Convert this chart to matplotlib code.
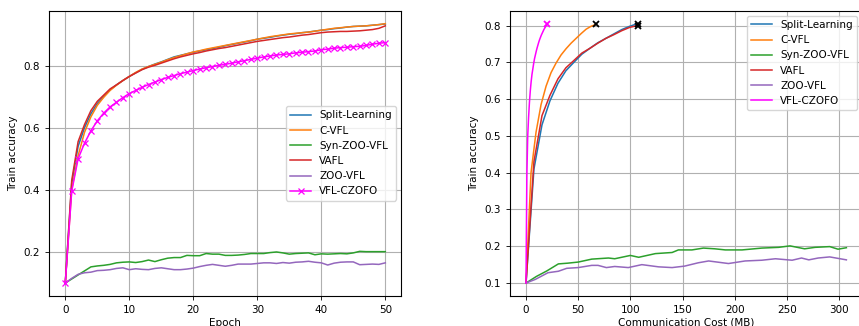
import matplotlib
matplotlib.use("Agg")
import matplotlib.pyplot as plt

FS = 7.5
plt.rcParams['font.family'] = ['DejaVu Sans']
plt.rcParams['font.size'] = FS

# ---------------- Left panel: accuracy vs epoch ----------------
epochs = list(range(51))

split_acc = [0.100, 0.420, 0.540, 0.600, 0.645, 0.678, 0.700, 0.722, 0.738, 0.752,
             0.765, 0.777, 0.788, 0.797, 0.805, 0.812, 0.820, 0.828, 0.833, 0.838,
             0.843, 0.847, 0.851, 0.855, 0.859, 0.864, 0.868, 0.872, 0.876, 0.880,
             0.885, 0.888, 0.891, 0.895, 0.898, 0.901, 0.903, 0.906, 0.908, 0.911,
             0.914, 0.916, 0.919, 0.921, 0.924, 0.926, 0.927, 0.928, 0.930, 0.932,
             0.934]
cvfl_acc = [0.100, 0.400, 0.510, 0.585, 0.635, 0.672, 0.698, 0.720, 0.737, 0.752,
            0.765, 0.778, 0.789, 0.797, 0.804, 0.811, 0.819, 0.826, 0.832, 0.838,
            0.844, 0.848, 0.853, 0.857, 0.861, 0.865, 0.869, 0.873, 0.877, 0.881,
            0.885, 0.889, 0.893, 0.896, 0.899, 0.902, 0.904, 0.906, 0.908, 0.911,
            0.914, 0.917, 0.920, 0.922, 0.924, 0.926, 0.927, 0.928, 0.930, 0.932,
            0.935]
vafl_acc = [0.100, 0.430, 0.555, 0.610, 0.655, 0.685, 0.705, 0.725, 0.738, 0.752,
            0.765, 0.776, 0.787, 0.795, 0.801, 0.808, 0.815, 0.822, 0.828, 0.833,
            0.838, 0.842, 0.847, 0.851, 0.855, 0.858, 0.862, 0.866, 0.870, 0.874,
            0.878, 0.881, 0.884, 0.887, 0.890, 0.892, 0.895, 0.898, 0.900, 0.903,
            0.906, 0.908, 0.909, 0.910, 0.910, 0.911, 0.912, 0.914, 0.916, 0.920,
            0.928]
synzoo_acc = [0.100, 0.113, 0.126, 0.139, 0.152, 0.155, 0.157, 0.160, 0.165, 0.167,
              0.168, 0.166, 0.169, 0.174, 0.169, 0.175, 0.180, 0.182, 0.182, 0.189,
              0.188, 0.188, 0.195, 0.193, 0.193, 0.189, 0.189, 0.190, 0.192, 0.195,
              0.195, 0.195, 0.198, 0.200, 0.197, 0.193, 0.195, 0.196, 0.197, 0.191,
              0.194, 0.193, 0.194, 0.195, 0.194, 0.197, 0.202, 0.201, 0.201, 0.201,
              0.201]
zoo_acc = [0.100, 0.115, 0.128, 0.133, 0.135, 0.140, 0.141, 0.143, 0.147, 0.149,
           0.143, 0.146, 0.144, 0.143, 0.147, 0.149, 0.146, 0.143, 0.143, 0.145,
           0.148, 0.153, 0.157, 0.160, 0.157, 0.154, 0.157, 0.161, 0.161, 0.161,
           0.163, 0.165, 0.165, 0.163, 0.166, 0.164, 0.167, 0.168, 0.170, 0.167,
           0.165, 0.158, 0.164, 0.167, 0.168, 0.168, 0.159, 0.160, 0.161, 0.160,
           0.165]
czofo_acc = [0.100, 0.395, 0.500, 0.550, 0.590, 0.622, 0.647, 0.667, 0.682, 0.697,
             0.710, 0.720, 0.730, 0.739, 0.747, 0.755, 0.762, 0.768, 0.774, 0.779,
             0.784, 0.789, 0.793, 0.797, 0.801, 0.804, 0.808, 0.812, 0.816, 0.820,
             0.824, 0.828, 0.831, 0.834, 0.836, 0.838, 0.841, 0.843, 0.845, 0.847,
             0.851, 0.853, 0.856, 0.858, 0.859, 0.861, 0.862, 0.865, 0.869, 0.872,
             0.874]

# ---------------- Right panel: accuracy vs communication cost ----------------
split_cost = [0, 7.6, 15.3, 22.9, 30.6, 38.2, 45.9, 53.5, 61.2, 68.8, 76.5, 84.1, 91.8, 99.4, 107.0]
split_acc_r = [0.100, 0.410, 0.530, 0.595, 0.643, 0.677, 0.700, 0.722, 0.738, 0.753,
               0.765, 0.777, 0.789, 0.798, 0.805]
cvfl_cost = [0, 4.8, 9.6, 14.4, 19.2, 24.0, 28.8, 33.6, 38.4, 43.2, 48.0, 52.8, 57.6, 62.4, 67.2]
cvfl_acc_r = [0.100, 0.400, 0.510, 0.585, 0.635, 0.672, 0.698, 0.720, 0.737, 0.752,
              0.765, 0.778, 0.790, 0.798, 0.803]
vafl_cost = [0, 7.6, 15.3, 22.9, 30.6, 38.2, 45.9, 53.5, 61.2, 68.8, 76.5, 84.1, 91.8, 99.4, 107.0]
vafl_acc_r = [0.100, 0.430, 0.555, 0.610, 0.655, 0.685, 0.705, 0.725, 0.738, 0.752,
              0.765, 0.775, 0.786, 0.795, 0.800]
czofo_cost = [0, 0.82, 1.63, 2.45, 3.26, 4.08, 4.9, 5.71, 6.53, 7.34, 8.16, 8.98, 9.79,
              10.61, 11.42, 12.24, 13.06, 13.87, 14.69, 15.5, 16.32, 17.14, 17.95,
              18.77, 19.58, 20.4]
czofo_acc_r = [0.100, 0.395, 0.500, 0.550, 0.590, 0.622, 0.647, 0.667, 0.682, 0.697,
               0.710, 0.720, 0.730, 0.739, 0.747, 0.755, 0.762, 0.768, 0.774, 0.779,
               0.784, 0.789, 0.793, 0.797, 0.801, 0.804]
synzoo_cost = [0, 10, 20, 31, 40, 50, 63, 79, 85, 100, 108, 124, 140, 146, 159, 170, 181,
               191, 207, 226, 242, 253, 267, 277, 291, 299, 307]
synzoo_acc_r = [0.100, 0.118, 0.133, 0.152, 0.154, 0.157, 0.165, 0.168, 0.166, 0.175,
                0.170, 0.180, 0.183, 0.190, 0.190, 0.195, 0.193, 0.190, 0.190, 0.195,
                0.197, 0.201, 0.193, 0.197, 0.199, 0.192, 0.196]
zoo_cost = [0, 9, 21, 31, 39, 50, 63, 69, 77, 85, 98, 111, 127, 140, 152, 165, 175, 194,
            210, 226, 239, 255, 264, 271, 280, 291, 307]
zoo_acc_r = [0.100, 0.110, 0.128, 0.132, 0.140, 0.142, 0.148, 0.148, 0.142, 0.145,
             0.142, 0.150, 0.144, 0.142, 0.146, 0.155, 0.160, 0.153, 0.160, 0.162,
             0.166, 0.162, 0.168, 0.163, 0.168, 0.171, 0.163]

labels = ["Split-Learning", "C-VFL", "Syn-ZOO-VFL", "VAFL", "ZOO-VFL", "VFL-CZOFO"]
colors = ["#1f77b4", "#ff7f0e", "#2ca02c", "#d62728", "#9467bd", "#ff00ff"]

LW = 1.1
fig = plt.figure(figsize=(8.59, 3.26), dpi=100)
ax1 = fig.add_axes([49.3 / 859, 30 / 326, 352 / 859, 285.3 / 326])
ax2 = fig.add_axes([510 / 859, 30 / 326, 352.4 / 859, 285.3 / 326])

left_series = [split_acc, cvfl_acc, synzoo_acc, vafl_acc, zoo_acc]
for lab, col, ys in zip(labels[:5], colors[:5], left_series):
    ax1.plot(epochs, ys, color=col, lw=LW, label=lab)
ax1.plot(epochs, czofo_acc, color=colors[5], lw=LW, marker='x', markersize=4.2,
         markeredgewidth=0.9, label=labels[5])

right_series = [(split_cost, split_acc_r), (cvfl_cost, cvfl_acc_r), (synzoo_cost, synzoo_acc_r),
                (vafl_cost, vafl_acc_r), (zoo_cost, zoo_acc_r), (czofo_cost, czofo_acc_r)]
for lab, col, (xs, ys) in zip(labels, colors, right_series):
    ax2.plot(xs, ys, color=col, lw=LW, label=lab)
# end markers where the target accuracy is reached
for (xs, ys), mc in [((split_cost, split_acc_r), 'black'), ((cvfl_cost, cvfl_acc_r), 'black'),
                     ((vafl_cost, vafl_acc_r), 'black'), ((czofo_cost, czofo_acc_r), colors[5])]:
    ax2.plot(xs[-1], ys[-1], linestyle='none', marker='x', color=mc, markersize=4.5,
             markeredgewidth=1.3)

ax1.set_xticks([0, 10, 20, 30, 40, 50])
ax1.set_yticks([0.2, 0.4, 0.6, 0.8])
ax2.set_xticks([0, 50, 100, 150, 200, 250, 300])
ax2.set_yticks([0.1, 0.2, 0.3, 0.4, 0.5, 0.6, 0.7, 0.8])

for ax in (ax1, ax2):
    ax.grid(True, color='#b0b0b0', lw=0.8)
    ax.set_ylabel("Train accuracy", fontsize=FS)
    ax.tick_params(labelsize=FS, width=0.6, length=3)
    for s in ax.spines.values():
        s.set_linewidth(0.8)

ax1.set_xlabel("Epoch", fontsize=FS, labelpad=2)
ax2.set_xlabel("Communication Cost (MB)", fontsize=FS, labelpad=2)

ax1.legend(loc='center right', fontsize=FS)
ax2.legend(loc='upper right', fontsize=FS)

fig.savefig("out.png", dpi=100)
